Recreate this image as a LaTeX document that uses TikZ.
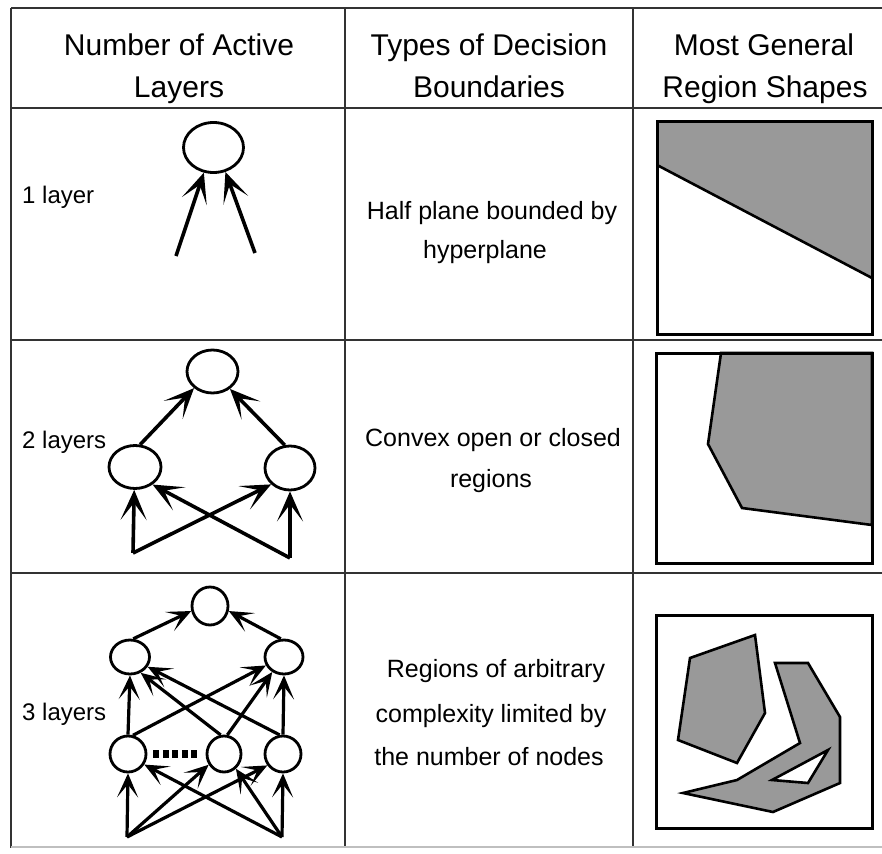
\documentclass[tikz,border=0pt]{standalone}
\usepackage{fontspec}
\setmainfont{Liberation Sans}
\usetikzlibrary{arrows.meta,shapes.geometric}
\begin{document}
\begin{tikzpicture}[x=1pt,y=-1pt,
  rule/.style={line width=2.2pt, draw=black!80},
  head/.style={font=\fontsize{30}{40}\selectfont, anchor=base, inner sep=0},
  body/.style={font=\fontsize{25}{40}\selectfont, anchor=base, inner sep=0},
  label/.style={font=\fontsize{24}{40}\selectfont, anchor=base west, inner sep=0},
  unit/.style={ellipse, draw, line width=2.8pt, inner sep=0},
  link/.style={line width=3.6pt, -{Stealth[length=30pt,width=26pt,inset=17pt]}},
  slink/.style={line width=3.2pt, -{Stealth[length=24pt,width=21pt,inset=13pt]}},
  frame/.style={line width=3pt, draw=black},
  region/.style={line width=2.6pt, draw=black, fill=black!40},
]
\useasboundingbox (0,0) rectangle (882,853);

% table rules
\draw[rule] (11,8) -- (882,8);
\draw[rule] (11,8) -- (11,848);
\draw[rule] (11,108) -- (882,108);
\draw[rule] (11,340) -- (882,340);
\draw[rule] (11,573) -- (882,573);
\draw[rule] (345,8) -- (345,848);
\draw[rule] (633,8) -- (633,848);
\draw[line width=1.2pt, draw=black!25] (11,847) -- (882,847);

% column headings
\node[head] (h1a) at (179,56) {Number of Active};
\node[head] (h1b) at (179,98) {Layers};
\node[head] (h2a) at (489,56) {Types of Decision};
\node[head] (h2b) at (489,98) {Boundaries};
\node[head] (h3a) at (764,56) {Most General};
\node[head] (h3b) at (765,98) {Region Shapes};

% row labels
\node[label] (l1) at (22,203) {1 layer};
\node[label] (l2) at (22,448) {2 layers};
\node[label] (l3) at (22,720) {3 layers};

% decision boundary descriptions
\node[body] (d1a) at (492,219) {Half plane bounded by};
\node[body] (d1b) at (485,258) {hyperplane};
\node[body] (d2a) at (493,446) {Convex open or closed};
\node[body] (d2b) at (491,487) {regions};
\node[body] (d3a) at (496,677) {Regions of arbitrary};
\node[body] (d3b) at (491,722) {complexity limited by};
\node[body] (d3c) at (489,765) {the number of nodes};

% one layer
\node[unit, minimum width=60pt, minimum height=50pt] (o1) at (213.5,147.5) {};
\coordinate (i1a) at (176,256);
\coordinate (i1b) at (255,253);
\draw[link] (i1a) -- (o1.249);
\draw[link] (i1b) -- (o1.296);

% two layers
\node[unit, minimum width=51pt, minimum height=43pt] (o2) at (212.5,371.5) {};
\node[unit, minimum width=52pt, minimum height=43pt] (h2l) at (135,467) {};
\node[unit, minimum width=50pt, minimum height=44pt] (h2r) at (290,468) {};
\coordinate (i2a) at (133,553);
\coordinate (i2b) at (290,558);
\draw[link] (h2l.77) -- (o2.222);
\draw[link] (h2r.103) -- (o2.315);
\draw[link] (i2a) -- (h2l.268);
\draw[link] (i2a) -- (h2r.221);
\draw[link] (i2b) -- (h2r.270);
\draw[link] (i2b) -- (h2l.315);

% three layers
\node[unit, minimum width=36pt, minimum height=38pt] (o3) at (210,606) {};
\node[unit, minimum width=39pt, minimum height=34pt] (s3l) at (130,657) {};
\node[unit, minimum width=38pt, minimum height=34pt] (s3r) at (284,657) {};
\node[unit, minimum width=36pt, minimum height=36pt] (b3l) at (128,754) {};
\node[unit, minimum width=34pt, minimum height=36pt] (b3m) at (224,754) {};
\node[unit, minimum width=36pt, minimum height=36pt] (b3r) at (283,754) {};
\coordinate (i3a) at (127,837);
\coordinate (i3b) at (282,837);
\draw[line width=8pt, dash pattern=on 6pt off 3.5pt] (b3l.east) ++(6pt,0) coordinate (dl) -- ++(44pt,0) coordinate (dr);
\draw[slink] (s3l.80) -- (o3.195);
\draw[slink] (s3r.100) -- (o3.345);
\draw[slink] (b3l.90) -- (s3l.270);
\draw[slink] (b3r.90) -- (s3r.270);
\draw[slink] (b3l.75) -- (s3r.205);
\draw[slink] (b3m.100) -- (s3l.304);
\draw[slink] (b3m.80) -- (s3r.232);
\draw[slink] (b3r.100) -- (s3l.331);
\draw[slink] (i3a) -- (b3l.270);
\draw[slink] (i3a) -- (b3m.215);
\draw[slink] (i3a) -- (b3r.216);
\draw[slink] (i3b) -- (b3r.270);
\draw[slink] (i3b) -- (b3m.309);
\draw[slink] (i3b) -- (b3l.327);

% region shapes: half plane
\fill[black!40] (657,122) -- (872,122) -- (872,278) -- (657,165) -- cycle;
\draw[line width=2.6pt] (657,165) -- (872,278);
\draw[frame] (657,122) rectangle (872,334);

% region shapes: convex region
\draw[region] (721,353) -- (872,353) -- (872,525) -- (742,508) -- (708,444) -- cycle;
\draw[frame] (656,353) rectangle (872,563);

% region shapes: arbitrary regions
\draw[frame] (656,615) rectangle (872,828);
\draw[region] (690,658) -- (755,635) -- (765,713) -- (737,763) -- (678,740) -- cycle;
\draw[region] (775,663) -- (808,663) -- (840,717) -- (840,783) -- (773,812) -- (683,793)
  -- (737,780) -- (800,743) -- cycle;
\draw[line width=2.6pt, fill=white] (772,780) -- (828,750) -- (808,783) -- cycle;
\end{tikzpicture}
\end{document}
